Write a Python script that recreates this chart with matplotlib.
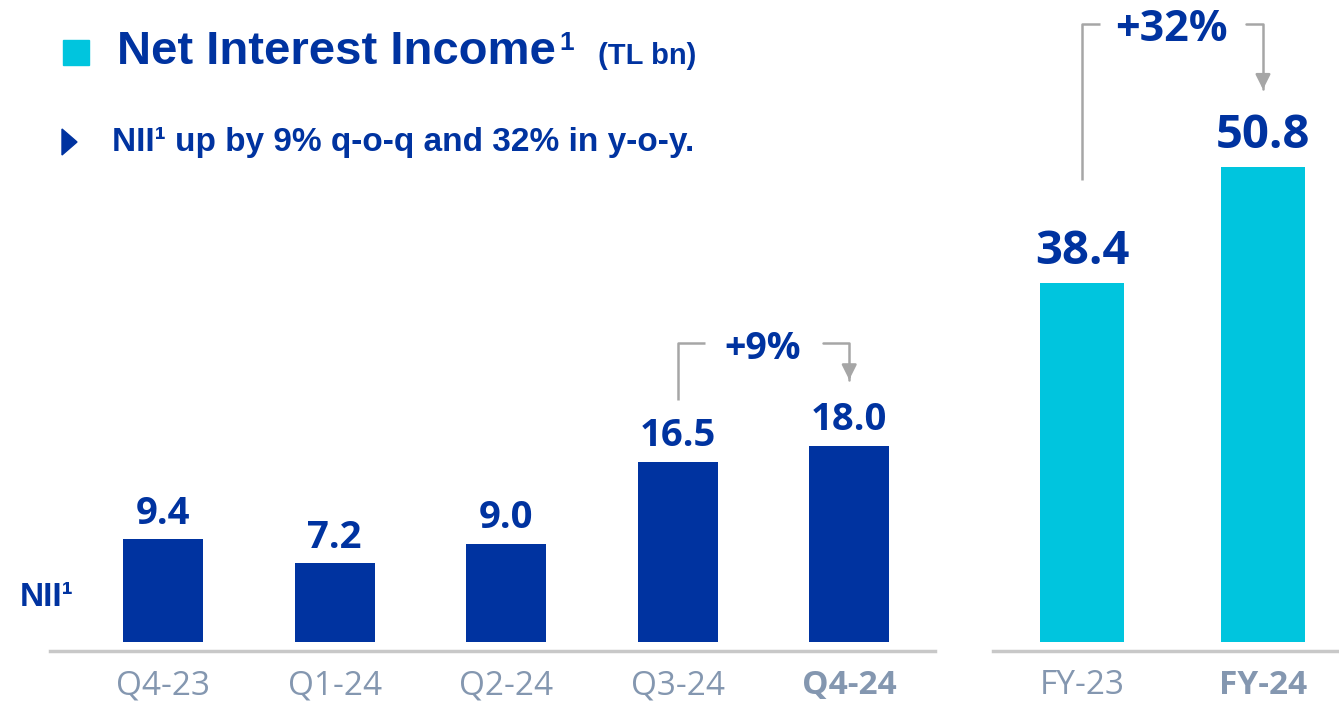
import matplotlib
matplotlib.use("Agg")
from matplotlib import pyplot as plt

# data
quarters = ["Q4-23", "Q1-24", "Q2-24", "Q3-24", "Q4-24"]
nii_q = [9.4, 7.2, 9.0, 16.5, 18.0]
years = ["FY-23", "FY-24"]
nii_fy = [38.4, 50.8]
qoq_label = "+9%"
yoy_label = "+32%"

navy = "#0033A0"
cyan = "#00C5DE"
grey = "#A6A6A6"
tick_grey = "#8497B0"
arial = ["Liberation Sans", "DejaVu Sans"]
sans = ["Open Sans", "DejaVu Sans"]

W, H = 1339, 709
fig = plt.figure(figsize=(W / 100, H / 100), dpi=100)


def px_axes(x0, x1, y_bottom):
    # rectangle from pixel coords (y from top) up to the top of the figure
    return fig.add_axes([x0 / W, (H - y_bottom) / H, (x1 - x0) / W, y_bottom / H])


# ---- left panel: quarterly
ax = px_axes(50, 935, 651)
xs = range(len(quarters))
ax.bar(xs, nii_q, width=0.466, color=navy, zorder=2)
ax.set_xlim(-0.659, 4.50)
ax.set_ylim(-0.83, 651 / 10.9 - 0.83)
for x, v in zip(xs, nii_q):
    ax.annotate("%.1f" % v, xy=(x, v), xytext=(0, 5), textcoords="offset points",
                ha="center", va="bottom", fontsize=27.5, fontweight="bold",
                color=navy, family=sans)

# ---- right panel: full year
ax2 = px_axes(993, 1339, 651)
xs2 = range(len(years))
ax2.bar(xs2, nii_fy, width=0.46, color=cyan, zorder=2)
ax2.set_xlim(-0.492, 1.42)
ax2.set_ylim(-0.96, 651 / 9.35 - 0.96)
for x, v in zip(xs2, nii_fy):
    ax2.annotate("%.1f" % v, xy=(x, v), xytext=(0, 6), textcoords="offset points",
                 ha="center", va="bottom", fontsize=34, fontweight="bold",
                 color=navy, family=sans)

for a, labels in ((ax, quarters), (ax2, years)):
    for s in ("top", "right", "left"):
        a.spines[s].set_visible(False)
    a.spines["bottom"].set_color("#C8C8C8")
    a.spines["bottom"].set_linewidth(2.5)
    a.set_yticks([])
    a.set_xticks(range(len(labels)))
    a.set_xticklabels(labels, fontsize=24, color=tick_grey, family=sans)
    a.tick_params(axis="x", length=0, pad=13)
    a.get_xticklabels()[-1].set_fontweight("bold")
    a.patch.set_alpha(0)


def bracket(a, x0, y0, x1, y1, ytop, gap0, gap1, label, fs):
    lw = 1.8
    a.plot([x0, x0, gap0], [y0, ytop, ytop], color=grey, lw=lw, solid_capstyle="butt")
    a.annotate("", xy=(x1, y1), xytext=(gap1, ytop),
               arrowprops=dict(arrowstyle="-", color=grey, lw=lw,
                               connectionstyle="angle,angleA=0,angleB=90,rad=0"))
    a.annotate("", xy=(x1, y1), xytext=(x1, y1 + 0.1 * (ytop - y1) + 0.5),
               arrowprops=dict(arrowstyle="-|>,head_width=0.45,head_length=0.9",
                               color=grey, lw=lw))
    a.annotate(label, xy=((gap0 + gap1) / 2, ytop), xytext=(0, -4),
               textcoords="offset points", ha="center", va="center",
               fontsize=fs, fontweight="bold", color=navy, family=sans)


# +9% q-o-q
bracket(ax, 3, nii_q[3] + 5.7, 4, nii_q[4] + 5.8, nii_q[4] + 9.4, 3.16, 3.83, qoq_label, 27)
# +32% y-o-y
bracket(ax2, 0, nii_fy[0] + 11, 1, nii_fy[1] + 8, nii_fy[1] + 15.3, 0.10, 0.89, yoy_label, 31)

# ---- titles
fig.patches.append(plt.Rectangle((63 / W, 1 - 65 / H), 26 / W, 25 / H,
                                 transform=fig.transFigure, color=cyan))
fig.text(117 / W, 1 - 52 / H, "Net Interest Income", fontsize=34, fontweight="bold",
         color=navy, family=arial, va="center")
fig.text(559 / W, 1 - 43 / H, "1", fontsize=19, fontweight="bold",
         color=navy, family=arial, va="center")
fig.text(598 / W, 1 - 56 / H, "(TL bn)", fontsize=21, fontweight="bold",
         color=navy, family=arial, va="center")
fig.patches.append(plt.Polygon([(62 / W, 1 - 129 / H), (62 / W, 1 - 155 / H), (77 / W, 1 - 142 / H)],
                               closed=True, transform=fig.transFigure, color=navy))
fig.text(112 / W, 1 - 142 / H, "NII\u00b9 up by 9% q-o-q and 32% in y-o-y.", fontsize=24,
         fontweight="bold", color=navy, family=arial, va="center")
fig.text(20 / W, 1 - 598 / H, "NII\u00b9", fontsize=24, fontweight="bold",
         color=navy, family=arial, va="center")

fig.savefig("out.png", dpi=100)
